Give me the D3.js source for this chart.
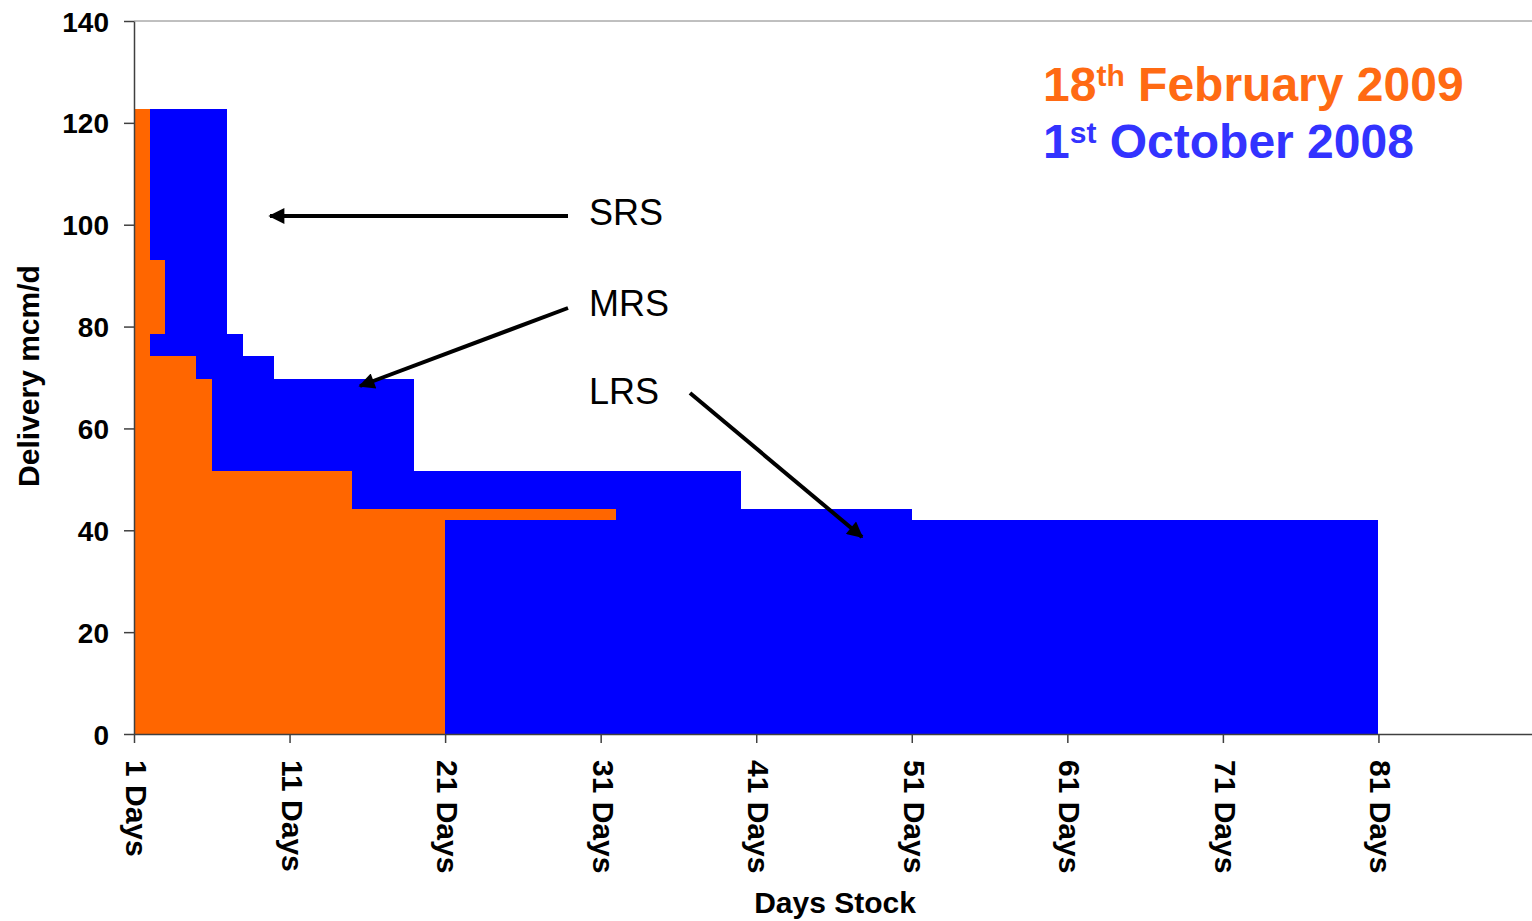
<!DOCTYPE html>
<html>
<head>
<meta charset="utf-8">
<script src="https://cdn.jsdelivr.net/npm/d3@7"></script>
<style>
    body { margin: 0; background: #fff; }
    text { font-family: "Liberation Sans", Arial, sans-serif; }
</style>
</head>
<body>
<script>
// 1st October 2008 deliverability curve (step edges in days, value per step)
var octEdges = [1, 7, 8, 10, 19, 40, 51, 81];
var octValues = [122.7, 78.5, 74.2, 69.7, 51.6, 44.2, 42.0];

// 18th February 2009 curve
var febEdges = [1, 2, 3, 5, 6, 15, 32];
var febValues = [122.7, 93.1, 74.2, 69.7, 51.6, 44.2];

// blue pieces that sit in front of the orange
var frontFrom = [2, 21];
var frontTo = [8, 32];
var frontLow = [74.2, 0];
var frontHigh = [78.5, 42.0];

var xTicks = [1, 11, 21, 31, 41, 51, 61, 71, 81];
var yTicks = [0, 20, 40, 60, 80, 100, 120, 140];

var margin = {top: 21, right: 0, bottom: 187, left: 134}, width = 1532 - margin.left - margin.right, height = 921 - margin.top - margin.bottom;

var svg = d3.select("body")
    .append("svg")
    .attr("width", 1532)
    .attr("height", 921)
    .append("g")
    .attr("transform", "translate(" + margin.left + "," + margin.top + ")");

var x = d3.scaleLinear().domain([1, 91]).range([0, 1400]);
var y = d3.scaleLinear().domain([0, 140]).range([height, 0]);

function steps(edges, values) {
    var pts = [];
    for (var i = 0; i < values.length; i++) {
        pts.push({d: edges[i], v: values[i]});
    }
    pts.push({d: edges[values.length], v: values[values.length - 1]});
    return pts;
}

var area = d3.area()
    .curve(d3.curveStepAfter)
    .x(function(d) { return Math.round(x(d.d)); })
    .y0(y(0))
    .y1(function(d) { return Math.round(y(d.v)); });

svg.append("path")
    .datum(steps(octEdges, octValues))
    .attr("fill", "#0000ff")
    .attr("shape-rendering", "crispEdges")
    .attr("d", area);

svg.append("path")
    .datum(steps(febEdges, febValues))
    .attr("fill", "#ff6600")
    .attr("shape-rendering", "crispEdges")
    .attr("d", area);

svg.selectAll("frontbar")
    .data(frontFrom)
    .enter()
    .append("rect")
    .attr("x", function(d, i) { return Math.round(x(frontFrom[i])); })
    .attr("y", function(d, i) { return Math.round(y(frontHigh[i])); })
    .attr("width", function(d, i) { return Math.round(x(frontTo[i])) - Math.round(x(frontFrom[i])); })
    .attr("height", function(d, i) { return Math.round(y(frontLow[i])) - Math.round(y(frontHigh[i])); })
    .attr("fill", "#0000ff")
    .attr("shape-rendering", "crispEdges");

// axes
var axisColor = "#404040";
svg.append("line").attr("x1", 0).attr("x2", width).attr("y1", 0).attr("y2", 0)
    .attr("stroke", "#808080").attr("stroke-width", 1);

var yAxis = svg.append("g")
    .call(d3.axisLeft(y).tickValues(yTicks).tickSize(10).tickSizeOuter(0).tickPadding(15));
yAxis.select(".domain").attr("stroke", axisColor).attr("stroke-width", 1.5);
yAxis.selectAll(".tick line").attr("stroke", axisColor).attr("stroke-width", 1.5);
yAxis.selectAll("text")
    .attr("fill", "#000")
    .style("font-family", "'Liberation Sans', Arial, sans-serif")
    .style("font-size", "28px")
    .style("font-weight", "bold")
    .attr("dy", "0.36em");

var xAxis = svg.append("g")
    .attr("transform", "translate(0," + height + ")")
    .call(d3.axisBottom(x).tickValues(xTicks).tickSize(9).tickSizeOuter(0)
        .tickFormat(function(d) { return d + " Days"; }));
xAxis.select(".domain").attr("stroke", axisColor).attr("stroke-width", 1.5);
xAxis.selectAll(".tick line").attr("stroke", axisColor).attr("stroke-width", 1.5);
xAxis.selectAll("text")
    .attr("fill", "#000")
    .style("font-family", "'Liberation Sans', Arial, sans-serif")
    .style("font-size", "30px")
    .style("font-weight", "bold")
    .attr("y", 0)
    .attr("dy", "0.35em")
    .attr("transform", "translate(2,26)rotate(90)")
    .style("text-anchor", "start");

svg.append("text")
    .attr("text-anchor", "middle")
    .attr("x", 835 - margin.left)
    .attr("y", height + 179)
    .style("font-size", "30px")
    .style("font-weight", "bold")
    .text("Days Stock");

svg.append("text")
    .attr("text-anchor", "middle")
    .attr("transform", "translate(-106," + (376 - margin.top) + ")rotate(-90)")
    .attr("dy", "0.35em")
    .style("font-size", "30px")
    .style("font-weight", "bold")
    .text("Delivery mcm/d");

// legend text
var leg1 = svg.append("text").attr("x", 1043 - margin.left).attr("y", 101 - margin.top)
    .attr("fill", "#ff6a13").style("font-size", "48px").style("font-weight", "bold");
leg1.append("tspan").text("18");
leg1.append("tspan").attr("dy", -15).style("font-size", "30px").text("th");
leg1.append("tspan").attr("dy", 15).text(" February 2009");

var leg2 = svg.append("text").attr("x", 1043 - margin.left).attr("y", 158 - margin.top)
    .attr("fill", "#3333ff").style("font-size", "48px").style("font-weight", "bold");
leg2.append("tspan").text("1");
leg2.append("tspan").attr("dy", -15).style("font-size", "30px").text("st");
leg2.append("tspan").attr("dy", 15).text(" October 2008");

// annotations
d3.select("svg").append("defs").append("marker")
    .attr("id", "head")
    .attr("viewBox", "0 0 10 10")
    .attr("refX", 9).attr("refY", 5)
    .attr("markerUnits", "userSpaceOnUse")
    .attr("markerWidth", 18).attr("markerHeight", 16)
    .attr("orient", "auto")
    .append("path")
    .attr("d", "M0,0L10,5L0,10z")
    .attr("fill", "#000");

var notes = ["SRS", "MRS", "LRS"];
var noteY = [225, 316, 404];
svg.selectAll("note")
    .data(notes)
    .enter()
    .append("text")
    .attr("x", 589 - margin.left)
    .attr("y", function(d, i) { return noteY[i] - margin.top; })
    .style("font-size", "36px")
    .text(function(d) { return d; });

var arrows = [[568, 216, 270, 216], [568, 308, 360, 386], [690, 393, 862, 537]];
svg.selectAll("arrow")
    .data(arrows)
    .enter()
    .append("line")
    .attr("x1", function(d) { return d[0] - margin.left; })
    .attr("y1", function(d) { return d[1] - margin.top; })
    .attr("x2", function(d) { return d[2] - margin.left; })
    .attr("y2", function(d) { return d[3] - margin.top; })
    .attr("stroke", "#000")
    .attr("stroke-width", 4)
    .attr("marker-end", "url(#head)");
</script>
</body>
</html>
